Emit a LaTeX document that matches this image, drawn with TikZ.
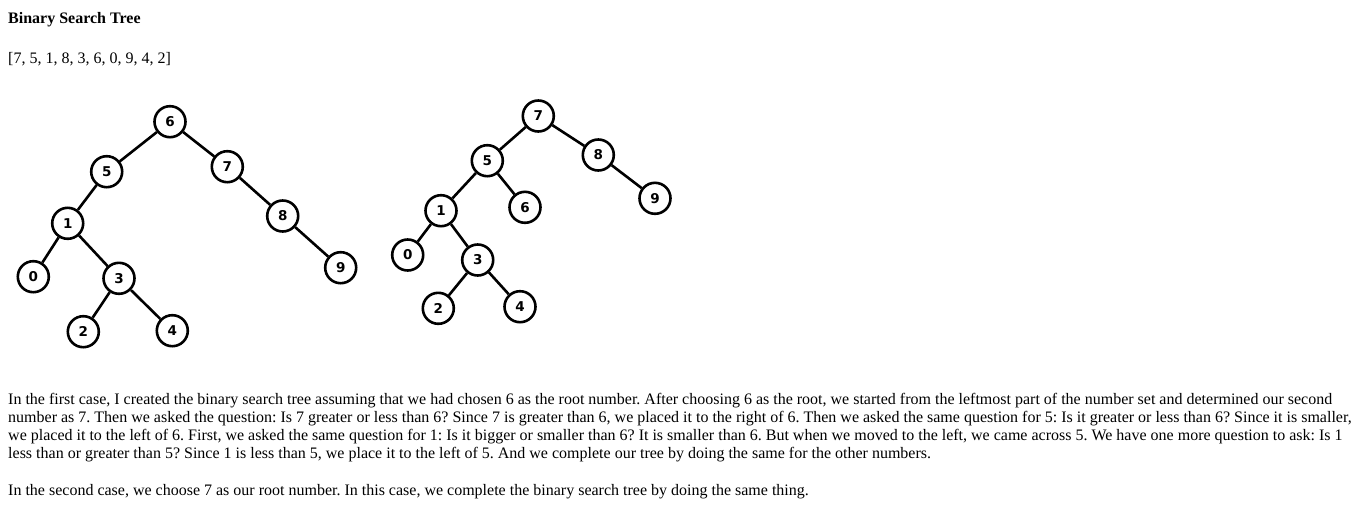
\documentclass[tikz,border=0pt]{standalone}
\usepackage{fontspec}
\setmainfont{Liberation Serif}
\newfontfamily\nodefont{DejaVu Sans}
\frenchspacing
\begin{document}
\begin{tikzpicture}[x=1pt,y=-1pt,
  bst/.style={circle,draw=black,line width=2.6pt,fill=white,minimum size=31pt,inner sep=0pt,font=\nodefont\bfseries\fontsize{13.5}{14}\selectfont},
  edge/.style={line width=2.6pt,draw=black},
  txt/.style={anchor=base west,inner sep=0pt,font=\fontsize{16}{18}\selectfont}]
\useasboundingbox (0,0) rectangle (1366,523);
\node[txt,font=\bfseries\fontsize{16}{18}\selectfont] (title) at (8,23) {Binary Search Tree};
\node[txt] (list) at (8,63) {[7, 5, 1, 8, 3, 6, 0, 9, 4, 2]};
% tree 1
\node[bst] (a6) at (170,121.7) {6};
\node[bst] (a5) at (106.7,171.7) {5};
\node[bst] (a7) at (227.3,166.7) {7};
\node[bst] (a1) at (67.7,223.3) {1};
\node[bst] (a8) at (282.7,216) {8};
\node[bst] (a0) at (33.3,276.7) {0};
\node[bst] (a3) at (119,278.3) {3};
\node[bst] (a9) at (340.7,267.7) {9};
\node[bst] (a2) at (83.3,331.7) {2};
\node[bst] (a4) at (172.3,330.7) {4};
\draw[edge] (a6) -- (a5);
\draw[edge] (a6) -- (a7);
\draw[edge] (a5) -- (a1);
\draw[edge] (a7) -- (a8);
\draw[edge] (a1) -- (a0);
\draw[edge] (a1) -- (a3);
\draw[edge] (a8) -- (a9);
\draw[edge] (a3) -- (a2);
\draw[edge] (a3) -- (a4);
% tree 2
\node[bst] (b7) at (538.3,116) {7};
\node[bst] (b5) at (487.3,160.7) {5};
\node[bst] (b8) at (598.3,155) {8};
\node[bst] (b1) at (441,210.7) {1};
\node[bst] (b6) at (525,207.3) {6};
\node[bst] (b9) at (655,198.3) {9};
\node[bst] (b0) at (407.7,255) {0};
\node[bst] (b3) at (477.7,260) {3};
\node[bst] (b2) at (438.3,308.3) {2};
\node[bst] (b4) at (520,306.7) {4};
\draw[edge] (b7) -- (b5);
\draw[edge] (b7) -- (b8);
\draw[edge] (b5) -- (b1);
\draw[edge] (b5) -- (b6);
\draw[edge] (b8) -- (b9);
\draw[edge] (b1) -- (b0);
\draw[edge] (b1) -- (b3);
\draw[edge] (b3) -- (b2);
\draw[edge] (b3) -- (b4);
% text
\node[txt] (p1) at (8,404) {In the first case, I created the binary search tree assuming that we had chosen 6 as the root number. After choosing 6 as the root, we started from the leftmost part of the number set and determined our second};
\node[txt] (p2) at (8,422) {number as 7. Then we asked the question: Is 7 greater or less than 6? Since 7 is greater than 6, we placed it to the right of 6. Then we asked the same question for 5: Is it greater or less than 6? Since it is smaller,};
\node[txt] (p3) at (8,440) {we placed it to the left of 6. First, we asked the same question for 1: Is it bigger or smaller than 6? It is smaller than 6. But when we moved to the left, we came across 5. We have one more question to ask: Is 1};
\node[txt] (p4) at (8,458) {less than or greater than 5? Since 1 is less than 5, we place it to the left of 5. And we complete our tree by doing the same for the other numbers.};
\node[txt] (p5) at (8,495) {In the second case, we choose 7 as our root number. In this case, we complete the binary search tree by doing the same thing.};
\end{tikzpicture}
\end{document}
